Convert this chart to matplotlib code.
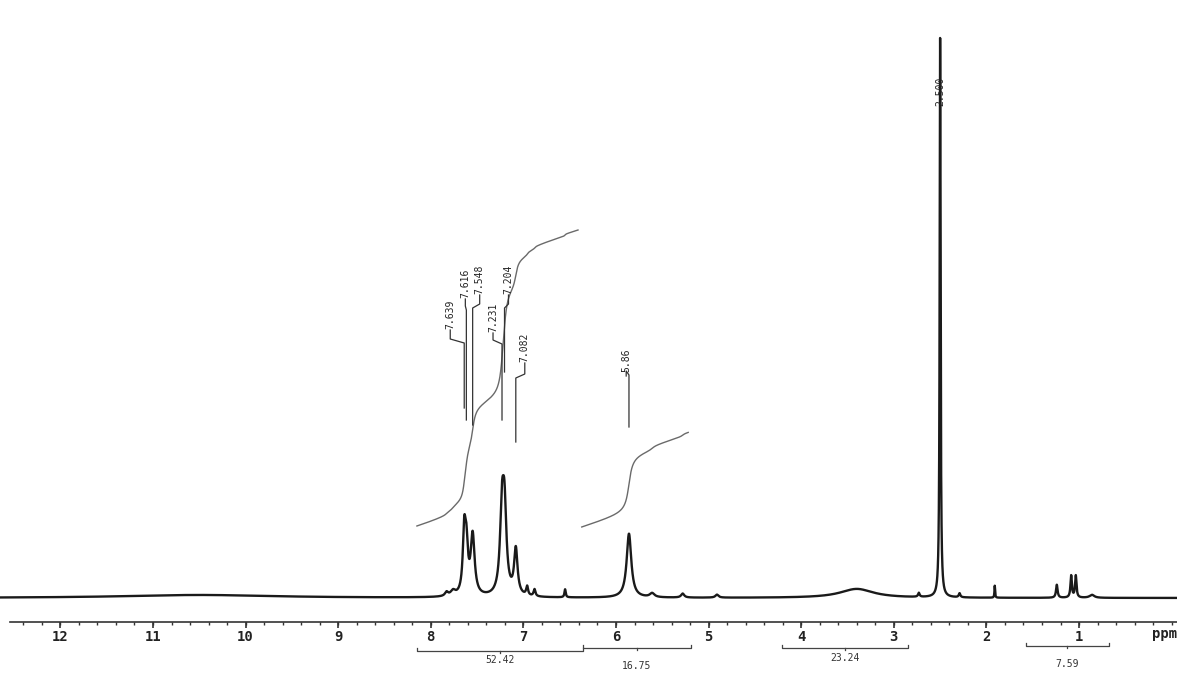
import numpy as np
import matplotlib
matplotlib.use("Agg")
from matplotlib import pyplot as plt

# peaks: shift (ppm), height (arb.), half width (ppm)
peak_ppm = [10.5, 7.83, 7.76, 7.639, 7.616, 7.548, 7.231, 7.204, 7.082,
            6.96, 6.88, 6.55, 5.86, 5.61, 5.28, 4.91, 3.40, 2.73, 2.500,
            2.29, 1.91, 1.24, 1.085, 1.035, 0.86]
peak_height = [3, 4, 5, 57, 45, 60, 78, 78, 46,
               9, 7, 8, 64, 4, 4, 3, 9, 4, 560,
               4, 12, 13, 22, 22, 3]
peak_width = [1.0, 0.02, 0.03, 0.018, 0.02, 0.025, 0.025, 0.025, 0.022,
              0.012, 0.012, 0.008, 0.03, 0.03, 0.02, 0.02, 0.22, 0.01, 0.006,
              0.01, 0.004, 0.01, 0.009, 0.009, 0.03]

# labelled shifts
label_text = ["7.639", "7.616", "7.548", "7.231", "7.204", "7.082", "5.86", "2.500"]
label_ppm = [7.639, 7.616, 7.548, 7.231, 7.204, 7.082, 5.86, 2.500]

# integral regions (ppm from, ppm to) and values
integ_from = [8.15, 6.36, 4.21, 1.57]
integ_to = [6.36, 5.19, 2.85, 0.68]
integ_value = [52.42, 16.75, 23.24, 7.59]

# ---- layout (intensity units == pixels, baseline at 0) ----
label_text_ppm = [7.79, 7.627, 7.472, 7.328, 7.161, 6.985, 5.89, 2.50]
label_text_y = [284, 315, 319, 281, 319, 251, 238, 507]
label_knee_y = [257, 290, 292, 256, 292, 222, 225, None]
label_line_bottom = [190, 178, 173, 178, 226, 156, 171, None]
curve_regions = [(8.15, 6.41, 72), (6.37, 5.22, 71)]
curve_px_per_unit = 296 / 52.42
bar_y = [-53, -50, -50, -48]
bar_label_y = [-62, -68, -60, -66]
ruler_y = -24

x = np.linspace(12.7, -0.1, 30000)
y = np.zeros_like(x)
for p, h, w in zip(peak_ppm, peak_height, peak_width):
    y += h * w ** 2 / ((x - p) ** 2 + w ** 2)

fig = plt.figure(figsize=(11.77, 6.76), dpi=100)
ax = fig.add_axes([0, 0, 1, 1])
ax.set_xlim(12.652, -0.058)
ax.set_ylim(-78, 598)
ax.axis("off")

ax.plot(x, y, color="#1a1a1a", lw=1.7)

# integral curves
for (hi, lo, start), value in zip(curve_regions, integ_value):
    m = (x <= hi) & (x >= lo)
    cum = np.cumsum(y[m] + 2.5)
    cum = cum / cum[-1] * value * curve_px_per_unit
    ax.plot(x[m], start + cum, color="#6a6a6a", lw=1.0)

# peak labels
mono = "DejaVu Sans Mono"
for i, txt in enumerate(label_text):
    tx = label_text_ppm[i]
    ty = label_text_y[i]
    ax.text(tx, ty, txt, rotation=90, ha="center", va="center",
            fontsize=7, family=mono, color="#222222")
    if label_knee_y[i] is None:
        continue
    px = label_ppm[i]
    knee = label_knee_y[i]
    ax.plot([tx, tx, px, px], [ty - 16, knee + 2, knee - 2, label_line_bottom[i]],
            color="#333333", lw=0.9)

# ruler with ticks
ax.plot([12.54, -0.058], [ruler_y, ruler_y], color="#333333", lw=1.2)
minor = np.arange(12.4, -0.01, -0.2)
ax.vlines(minor, ruler_y - 3, ruler_y, color="#333333", lw=1.0)
major = np.arange(12, 0, -1)
ax.vlines(major, ruler_y - 6, ruler_y, color="#333333", lw=1.2)
for v in major:
    ax.text(v, -39, f"{v}", ha="center", va="center", fontsize=10,
            family=mono, weight="bold", color="#222222")
ax.text(-0.058, -36, "ppm", ha="right", va="center", fontsize=10,
        family=mono, weight="bold", color="#222222")

# integral bars
for a, b, v, by, ly in zip(integ_from, integ_to, integ_value, bar_y, bar_label_y):
    ax.plot([a, a, b, b], [by + 3, by, by, by + 3], color="#444444", lw=0.9)
    mid = (a + b) / 2
    ax.plot([mid, mid], [by, by - 2], color="#444444", lw=0.9)
    ax.text(mid, ly, f"{v:.2f}", ha="center", va="center", fontsize=7,
            family=mono, color="#333333")

fig.savefig("out.png", dpi=100, facecolor="white")
